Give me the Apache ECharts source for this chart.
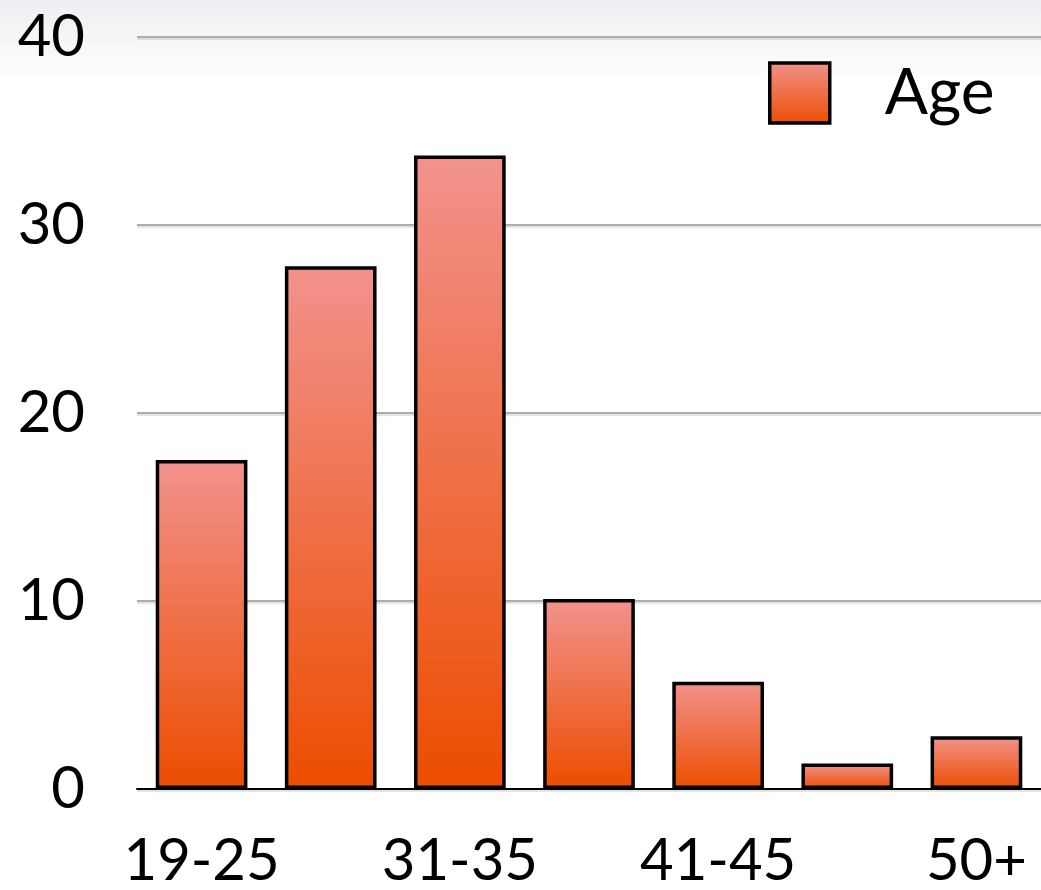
<!DOCTYPE html>
<html>
<head>
<meta charset="utf-8">
<title>Age</title>
<script src="https://cdn.jsdelivr.net/npm/echarts@6/dist/echarts.min.js"></script>
<style>
  html, body { margin: 0; padding: 0; background: #ffffff; }
  #chart { width: 1041px; height: 890px; }
</style>
</head>
<body>
<div id="chart"></div>
<script>
// Age groups and their share of respondents
const categories = ['19-25', '26-30', '31-35', '36-40', '41-45', '46-50', '50+'];
const ageValues = [17.5, 27.8, 33.7, 10.1, 5.7, 1.35, 2.8];
const yTicks = { min: 0, max: 40, interval: 10 };
const seriesName = 'Age';

const FONT = 'Lato, "Open Sans", sans-serif';

const barFill = new echarts.graphic.LinearGradient(0, 0, 0, 1, [
  { offset: 0, color: '#f2928d' },
  { offset: 1, color: '#ec4d00' }
]);

const chart = echarts.init(document.getElementById('chart'), null, { renderer: 'canvas' });

chart.setOption({
  backgroundColor: '#ffffff',
  animation: false,
  graphic: [{
    type: 'rect',
    left: 0,
    top: 0,
    z: -10,
    shape: { width: 1041, height: 80 },
    style: {
      fill: new echarts.graphic.LinearGradient(0, 0, 0, 1, [
        { offset: 0, color: '#eceef1' },
        { offset: 1, color: '#ffffff' }
      ])
    },
    silent: true
  }],
  legend: {
    data: [seriesName],
    left: 763,
    top: 56,
    itemWidth: 60,
    itemHeight: 60,
    icon: 'rect',
    itemStyle: { borderColor: '#000000', borderWidth: 3.5 },
    textStyle: {
      fontFamily: FONT,
      fontSize: 64,
      color: '#000000',
      padding: [0, 0, 0, 50]
    }
  },
  grid: { left: 137, right: 0, top: 37, bottom: 98 },
  xAxis: {
    type: 'category',
    data: categories,
    axisLine: { show: true, lineStyle: { color: '#000000', width: 2 } },
    axisTick: { show: false },
    axisLabel: {
      interval: 1,
      margin: 43,
      fontFamily: FONT,
      fontSize: 58,
      color: '#000000'
    }
  },
  yAxis: {
    type: 'value',
    min: yTicks.min,
    max: yTicks.max,
    interval: yTicks.interval,
    axisLine: { show: false },
    axisTick: { show: false },
    splitLine: {
      lineStyle: {
        color: '#adadad',
        width: 2,
        shadowColor: 'rgba(0,0,0,0.12)',
        shadowOffsetY: 2,
        shadowBlur: 1
      }
    },
    axisLabel: {
      margin: 52,
      fontFamily: FONT,
      fontSize: 58,
      color: '#000000'
    }
  },
  series: [{
    name: seriesName,
    type: 'bar',
    data: ageValues,
    barWidth: '71%',
    itemStyle: {
      color: barFill,
      borderColor: '#000000',
      borderWidth: 3.5
    }
  }]
});
</script>
</body>
</html>
